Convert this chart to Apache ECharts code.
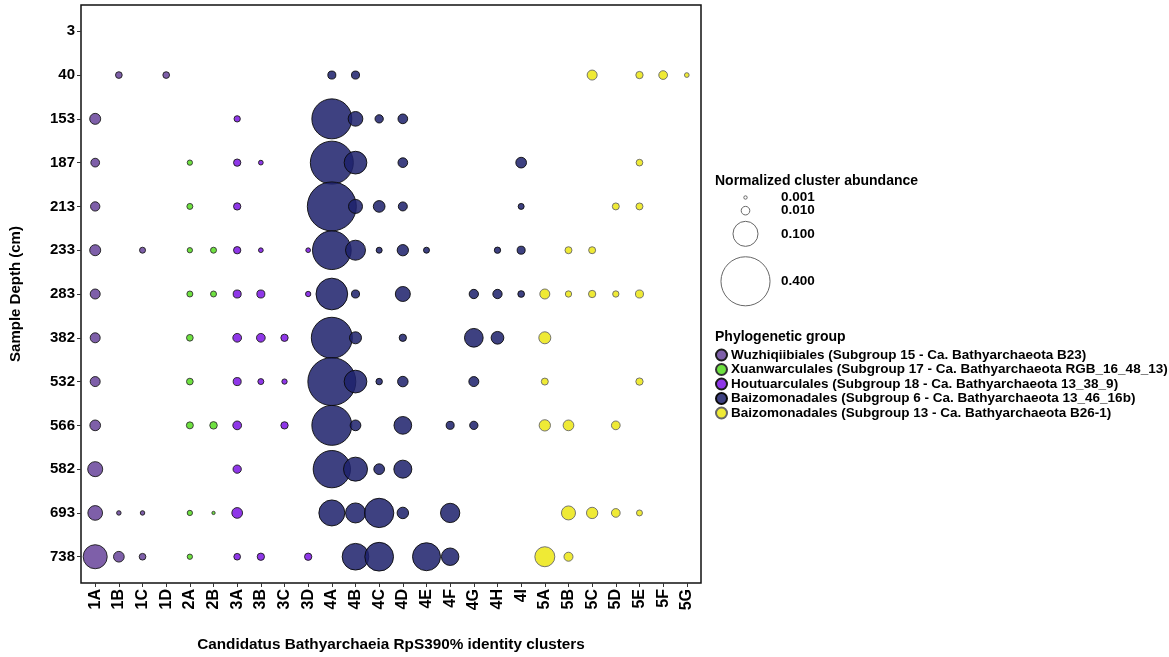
<!DOCTYPE html>
<html>
<head>
<meta charset="utf-8">
<script src="https://cdn.jsdelivr.net/npm/echarts@6/dist/echarts.min.js"></script>
<style>
  html, body { margin: 0; padding: 0; background: #fff; }
  #chart { width: 1169px; height: 657px; }
</style>
</head>
<body>
<div id="chart"></div>
<script>
// cluster names along x, sample depths along y
const clusters = ['1A','1B','1C','1D','2A','2B','3A','3B','3C','3D',
  '4A','4B','4C','4D','4E','4F','4G','4H','4I',
  '5A','5B','5C','5D','5E','5F','5G'];
const depths = ['3','40','153','187','213','233','283','382','532','566','582','693','738'];

const groupNames = [
  'Wuzhiqiibiales (Subgroup 15 - Ca. Bathyarchaeota B23)',
  'Xuanwarculales (Subgroup 17 - Ca. Bathyarchaeota RGB_16_48_13)',
  'Houtuarculales (Subgroup 18 - Ca. Bathyarchaeota 13_38_9)',
  'Baizomonadales (Subgroup 6 - Ca. Bathyarchaeota 13_46_16b)',
  'Baizomonadales (Subgroup 13 - Ca. Bathyarchaeota B26-1)'
];

// [cluster, depth, normalized abundance]
const wuzhiqiibiales = [
  ['1B','40',0.0056], ['1D','40',0.0056],
  ['1A','153',0.0173],
  ['1A','187',0.0103],
  ['1A','213',0.012],
  ['1A','233',0.0173], ['1C','233',0.0043],
  ['1A','283',0.014],
  ['1A','382',0.014],
  ['1A','532',0.014],
  ['1A','566',0.0163],
  ['1A','582',0.034],
  ['1A','693',0.0325], ['1B','693',0.0021], ['1C','693',0.0021],
  ['1A','738',0.092], ['1B','738',0.0163], ['1C','738',0.0056]
];
const xuanwarculales = [
  ['2A','187',0.0032],
  ['2A','213',0.0043],
  ['2A','233',0.0032], ['2B','233',0.0043],
  ['2A','283',0.0043], ['2B','283',0.0043],
  ['2A','382',0.0056],
  ['2A','532',0.0056],
  ['2A','566',0.0062], ['2B','566',0.0073],
  ['2A','693',0.0032], ['2B','693',0.0009],
  ['2A','738',0.0032]
];
const houtuarculales = [
  ['3A','153',0.0049],
  ['3A','187',0.0069], ['3B','187',0.0024],
  ['3A','213',0.0069],
  ['3A','233',0.0069], ['3B','233',0.0024], ['3D','233',0.0024],
  ['3A','283',0.0085], ['3B','283',0.0085], ['3D','283',0.0032],
  ['3A','382',0.0103], ['3B','382',0.0103], ['3C','382',0.0069],
  ['3A','532',0.0085], ['3B','532',0.0043], ['3C','532',0.0032],
  ['3A','566',0.0103], ['3C','566',0.0069],
  ['3A','582',0.0092],
  ['3A','693',0.0163],
  ['3A','738',0.0056], ['3B','738',0.0069], ['3D','738',0.0069]
];
const baizoSub6 = [
  ['4A','40',0.0085], ['4B','40',0.0085],
  ['4A','153',0.263], ['4B','153',0.0325], ['4C','153',0.0092], ['4D','153',0.0131],
  ['4A','187',0.305], ['4B','187',0.0815], ['4D','187',0.0131], ['4I','187',0.0163],
  ['4A','213',0.399], ['4B','213',0.0293], ['4C','213',0.0198], ['4D','213',0.0111], ['4I','213',0.0043],
  ['4A','233',0.246], ['4B','233',0.0625], ['4C','233',0.0043], ['4D','233',0.0184],
  ['4E','233',0.0043], ['4H','233',0.0049], ['4I','233',0.0085],
  ['4A','283',0.163], ['4B','283',0.0085], ['4D','283',0.0339], ['4G','283',0.0119],
  ['4H','283',0.0119], ['4I','283',0.0056],
  ['4A','382',0.277], ['4B','382',0.021], ['4D','382',0.0069], ['4G','382',0.0542], ['4H','382',0.0237],
  ['4A','532',0.382], ['4B','532',0.0815], ['4C','532',0.0052], ['4D','532',0.0156], ['4G','532',0.014],
  ['4A','566',0.263], ['4B','566',0.0163], ['4D','566',0.0483], ['4F','566',0.0085], ['4G','566',0.0092],
  ['4A','582',0.228], ['4B','582',0.0916], ['4C','582',0.0163], ['4D','582',0.05],
  ['4A','693',0.108], ['4B','693',0.0625], ['4C','693',0.139], ['4D','693',0.019], ['4F','693',0.058],
  ['4B','738',0.114], ['4C','738',0.133], ['4E','738',0.126], ['4F','738',0.047]
];
const baizoSub13 = [
  ['5C','40',0.014], ['5E','40',0.0069], ['5F','40',0.0103], ['5G','40',0.0024],
  ['5E','187',0.0056],
  ['5D','213',0.0062], ['5E','213',0.0062],
  ['5B','233',0.0062], ['5C','233',0.0062],
  ['5A','283',0.014], ['5B','283',0.0049], ['5C','283',0.0069], ['5D','283',0.0049], ['5E','283',0.0085],
  ['5A','382',0.021],
  ['5A','532',0.0062], ['5E','532',0.0069],
  ['5A','566',0.0184], ['5B','566',0.0163], ['5D','566',0.0103],
  ['5B','693',0.0293], ['5C','693',0.0184], ['5D','693',0.0103], ['5E','693',0.0043],
  ['5A','738',0.0625], ['5B','738',0.0111]
];

const sizeBreaks = [0.001, 0.010, 0.100, 0.400];
const sizeLabels = ['0.001', '0.010', '0.100', '0.400'];

const groupData = [wuzhiqiibiales, xuanwarculales, houtuarculales, baizoSub6, baizoSub13];
const groupColors = ['rgba(112,78,160,0.9)', 'rgba(98,222,48,0.92)', 'rgba(134,38,230,0.92)',
  'rgba(30,34,108,0.86)', 'rgba(238,232,36,0.92)'];
const groupBorders = ['#1a1a1a', '#333', '#1a1a1a', '#0a0a0a', '#666'];

// bubble diameter from abundance (area-proportional)
function sizeOf(v) { return 1 + 76 * Math.sqrt(v); }

const FONT = 'Liberation Sans, Arial, sans-serif';
const idx = arr => arr.map((_, i) => i);

const series = groupData.map((rows, g) => ({
  name: groupNames[g],
  type: 'scatter',
  data: rows.map(r => [clusters.indexOf(r[0]), depths.indexOf(r[1]), r[2]]),
  symbolSize: val => sizeOf(val[2]),
  itemStyle: { color: groupColors[g], borderColor: groupBorders[g], borderWidth: 0.9, opacity: 1 },
  emphasis: { disabled: true }
}));

// size legend built from the same size function
const graphics = [{
  type: 'text', left: 715, top: 174,
  style: { text: 'Normalized cluster abundance', font: 'bold 14px ' + FONT, fill: '#000' }
}];
let cursor = 191;
sizeBreaks.forEach((v, i) => {
  const d = sizeOf(v);
  const h = Math.max(13, 1.2 * d + 3);
  const cy = cursor + h / 2;
  graphics.push({
    type: 'circle', shape: { cx: 745.5, cy: cy, r: d / 2 },
    style: { fill: '#fff', stroke: '#666', lineWidth: 1 }
  });
  graphics.push({
    type: 'text', x: 781, y: cy,
    style: { text: sizeLabels[i], font: 'bold 13.5px ' + FONT, fill: '#000', verticalAlign: 'middle' }
  });
  cursor += h;
});
graphics.push({
  type: 'text', left: 715, top: 330,
  style: { text: 'Phylogenetic group', font: 'bold 14px ' + FONT, fill: '#000' }
});

const chart = echarts.init(document.getElementById('chart'), null, { renderer: 'canvas' });
chart.setOption({
  animation: false,
  textStyle: { fontFamily: FONT },
  grid: {
    left: 79, right: 468, top: 5, bottom: 74,
    show: true, borderColor: '#111', borderWidth: 1.5, backgroundColor: '#fff'
  },
  legend: {
    orient: 'vertical', left: 715, top: 348, padding: 0,
    icon: 'circle', itemWidth: 11, itemHeight: 11, itemGap: 0.5,
    data: groupNames,
    textStyle: { fontSize: 13.5, fontWeight: 'bold', color: '#000', lineHeight: 13, padding: [0, 0, 0, -1] },
    selectedMode: false
  },
  xAxis: {
    type: 'value', min: -0.6, max: clusters.length - 0.4,
    splitLine: { show: false },
    axisLine: { show: false, onZero: false },
    axisTick: { show: true, length: 4, lineStyle: { color: '#333' }, customValues: idx(clusters) },
    axisLabel: {
      customValues: idx(clusters), rotate: 90, margin: 6,
      formatter: v => clusters[Math.round(v)],
      fontSize: 16, fontWeight: 'bold', color: '#000'
    },
    name: 'Candidatus Bathyarchaeia RpS390% identity clusters',
    nameLocation: 'middle', nameGap: 54,
    nameTextStyle: { fontSize: 15.3, fontWeight: 'bold', color: '#000' }
  },
  yAxis: {
    type: 'value', inverse: true, min: -0.6, max: depths.length - 0.4,
    splitLine: { show: false },
    axisLine: { show: false, onZero: false },
    axisTick: { show: true, length: 4, lineStyle: { color: '#333' }, customValues: idx(depths) },
    axisLabel: {
      customValues: idx(depths), margin: 6,
      formatter: v => depths[Math.round(v)],
      fontSize: 15, fontWeight: 'bold', color: '#000'
    },
    name: 'Sample Depth (cm)',
    nameLocation: 'middle', nameRotate: 90, nameGap: 58,
    nameTextStyle: { fontSize: 15, fontWeight: 'bold', color: '#000' }
  },
  series: series,
  graphic: graphics
});
</script>
</body>
</html>
